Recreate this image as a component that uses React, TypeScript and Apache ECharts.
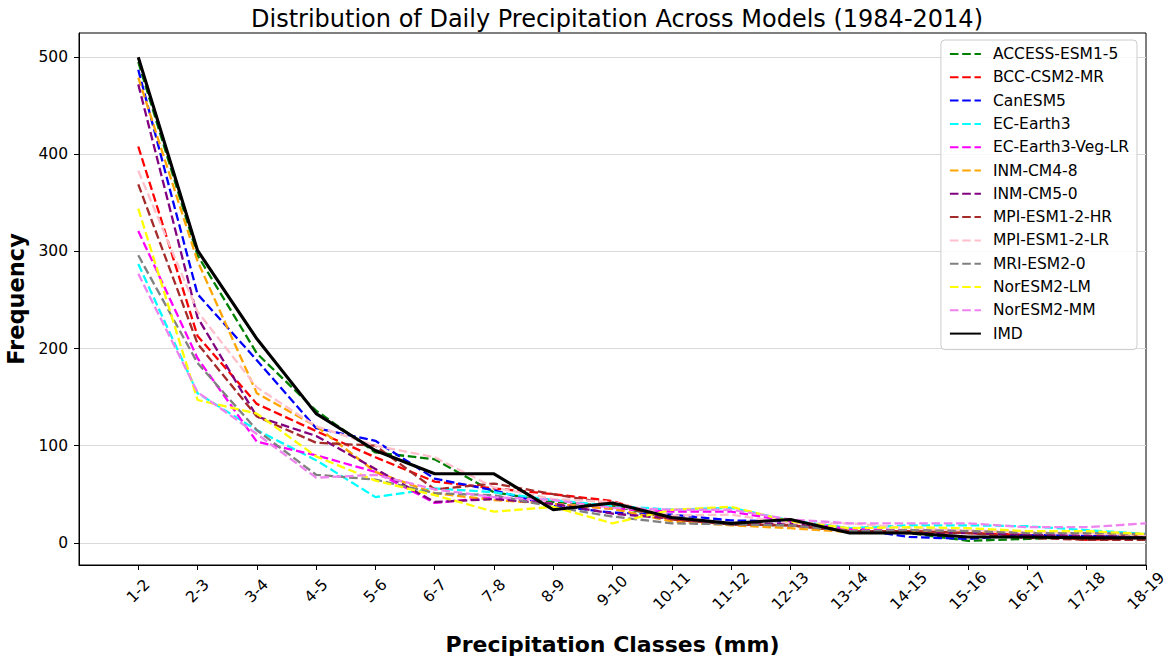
import React, { useEffect, useRef } from 'react';
import * as echarts from 'echarts';

const categories = ['1-2', '2-3', '3-4', '4-5', '5-6', '6-7', '7-8', '8-9', '9-10', '10-11', '11-12', '12-13', '13-14', '14-15', '15-16', '16-17', '17-18', '18-19'];
const yTicks = [0, 100, 200, 300, 400, 500];

const accessEsm15 = [495, 296, 195, 136, 93, 86, 52, 42, 38, 25, 19, 18, 12, 10, 2, 4, 6, 7];
const bccCsm2Mr = [408, 213, 143, 115, 88, 63, 56, 50, 43, 24, 19, 18, 12, 12, 10, 8, 3, 5];
const canEsm5 = [487, 256, 188, 118, 105, 66, 54, 38, 31, 29, 23, 22, 15, 6, 4, 8, 7, 6];
const ecEarth3 = [287, 154, 116, 85, 47, 56, 52, 44, 38, 34, 36, 23, 15, 18, 18, 17, 13, 9];
const ecEarth3VegLr = [321, 190, 104, 90, 73, 41, 47, 40, 35, 32, 32, 22, 14, 13, 12, 10, 10, 8];
const inmCm48 = [479, 290, 154, 120, 73, 51, 44, 40, 35, 22, 18, 15, 11, 12, 12, 10, 10, 7];
const inmCm50 = [472, 232, 130, 110, 76, 42, 45, 40, 30, 25, 19, 20, 12, 10, 10, 8, 7, 6];
const mpiEsm12Hr = [369, 205, 130, 103, 100, 55, 61, 50, 40, 24, 19, 18, 12, 12, 10, 5, 3, 3];
const mpiEsm12Lr = [383, 238, 160, 120, 100, 88, 57, 45, 42, 28, 29, 20, 20, 15, 13, 11, 10, 8];
const mriEsm20 = [296, 185, 116, 70, 65, 51, 49, 37, 27, 20, 19, 18, 12, 13, 12, 10, 10, 9];
const norEsm2Lm = [344, 147, 133, 89, 64, 49, 32, 37, 20, 34, 37, 22, 15, 16, 15, 12, 12, 9];
const norEsm2Mm = [277, 155, 112, 67, 70, 55, 47, 44, 36, 34, 34, 24, 20, 20, 20, 16, 16, 20];
const imd = [500, 301, 210, 133, 95, 71, 71, 34, 41, 26, 20, 24, 10, 10, 6, 6, 5, 5];

const modelNames = ['ACCESS-ESM1-5', 'BCC-CSM2-MR', 'CanESM5', 'EC-Earth3', 'EC-Earth3-Veg-LR', 'INM-CM4-8', 'INM-CM5-0', 'MPI-ESM1-2-HR', 'MPI-ESM1-2-LR', 'MRI-ESM2-0', 'NorESM2-LM', 'NorESM2-MM'];
const modelValues = [accessEsm15, bccCsm2Mr, canEsm5, ecEarth3, ecEarth3VegLr, inmCm48, inmCm50, mpiEsm12Hr, mpiEsm12Lr, mriEsm20, norEsm2Lm, norEsm2Mm];
const modelColors = ['#008000', '#ff0000', '#0000ff', '#00ffff', '#ff00ff', '#ffa500', '#800080', '#a52a2a', '#ffc0cb', '#808080', '#ffff00', '#ee82ee'];

const FONT = 'DejaVu Sans';

export default function App() {
  const ref = useRef<HTMLDivElement>(null);
  useEffect(() => {
    if (!ref.current) return;
    const chart = echarts.init(ref.current, undefined, { renderer: 'svg' });
    const series: any[] = modelNames.map((name, k) => ({
      name,
      type: 'line',
      data: modelValues[k].map((v, i) => [i, v]),
      symbol: 'none',
      showSymbol: false,
      lineStyle: { color: modelColors[k], width: 2.3, type: [8.6, 3.7] },
      itemStyle: { color: modelColors[k] },
    }));
    series.push({
      name: 'IMD',
      type: 'line',
      data: imd.map((v, i) => [i, v]),
      symbol: 'none',
      showSymbol: false,
      lineStyle: { color: '#000', width: 3.1, type: 'solid' },
      itemStyle: { color: '#000' },
    });
    chart.setOption({
      animation: false,
      backgroundColor: '#fff',
      textStyle: { fontFamily: FONT },
      title: {
        text: 'Distribution of Daily Precipitation Across Models (1984-2014)',
        left: 612,
        textAlign: 'center',
        top: 2,
        textStyle: { fontFamily: FONT, fontSize: 24, fontWeight: 'normal', color: '#000' },
      },
      grid: {
        left: 79, right: 26, top: 33, bottom: 96,
        show: true, borderColor: '#000', borderWidth: 1,
        containLabel: false, outerBoundsMode: 'none',
      },
      legend: {
        orient: 'vertical',
        right: 35,
        top: 40,
        data: [...modelNames, 'IMD'],
        itemWidth: 31,
        itemHeight: 16,
        itemGap: 7.3,
        padding: [6, 8, 8, 8],
        backgroundColor: 'rgba(255,255,255,0.8)',
        borderColor: '#cccccc',
        borderWidth: 1,
        borderRadius: 4,
        itemStyle: { opacity: 0, borderWidth: 0 },
        textStyle: { fontFamily: FONT, fontSize: 15.5, color: '#000', padding: [0, 0, 0, 7] },
      },
      xAxis: {
        type: 'value',
        min: -1,
        max: 17,
        interval: 1,
        axisLine: { show: true, onZero: false, lineStyle: { color: '#000', width: 1 } },
        axisTick: { show: true, length: 5, inside: false, lineStyle: { color: '#000' }, customValues: categories.map((_, i) => i) },
        axisLabel: {
          customValues: categories.map((_, i) => i),
          formatter: (v: number) => (v >= 0 && v < categories.length ? categories[v] : ''),
          rotate: 45,
          align: 'center',
          verticalAlign: 'middle',
          margin: 26,
          fontFamily: FONT,
          fontSize: 15.5,
          color: '#000',
        },
        splitLine: { show: false },
        name: 'Precipitation Classes (mm)',
        nameLocation: 'middle',
        nameGap: 68,
        nameTextStyle: { fontFamily: FONT, fontSize: 22, fontWeight: 'bold', color: '#000' },
      },
      yAxis: {
        type: 'value',
        min: -22.9,
        max: 524.9,
        axisLine: { show: true, onZero: false, lineStyle: { color: '#000', width: 1 } },
        axisTick: { show: true, length: 5, inside: false, lineStyle: { color: '#000' }, customValues: yTicks },
        axisLabel: { customValues: yTicks, margin: 11, fontFamily: FONT, fontSize: 15.5, color: '#000' },
        splitLine: { show: true, lineStyle: { color: '#d9d9d9', width: 1 } },
        name: 'Frequency',
        nameLocation: 'middle',
        nameGap: 45,
        nameTextStyle: { fontFamily: FONT, fontSize: 22.5, fontWeight: 'bold', color: '#000' },
      },
      series,
    });
    return () => chart.dispose();
  }, []);
  return <div ref={ref} style={{ position: 'absolute', left: 0, top: 0, width: 1172, height: 661 }} />;
}
